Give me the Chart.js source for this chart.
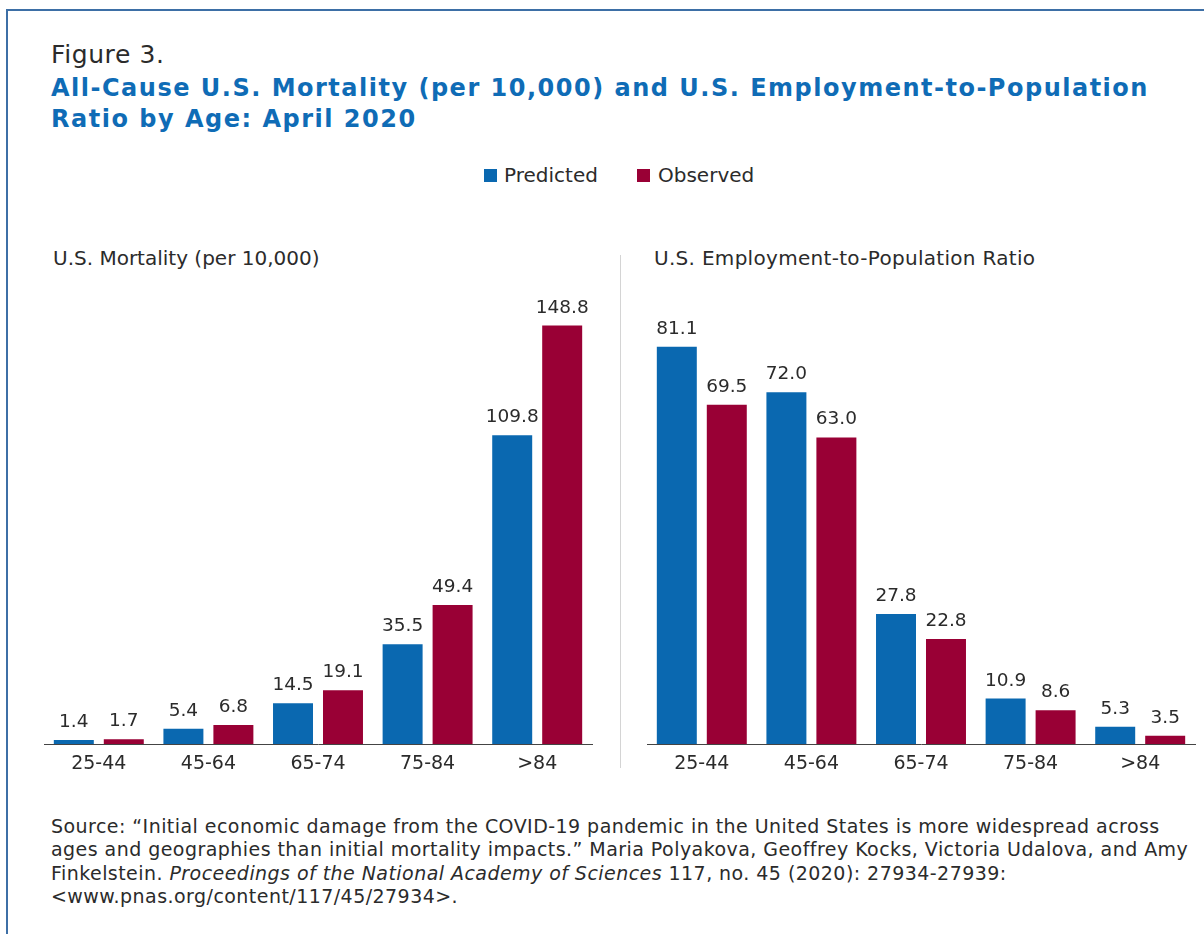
<!DOCTYPE html>
<html>
<head>
<meta charset="utf-8">
<script src="https://cdn.jsdelivr.net/npm/chart.js@4.4.1/dist/chart.umd.min.js"></script>
<style>
  html, body { margin: 0; padding: 0; background: #fff; width: 1204px; height: 934px; overflow: hidden; }
  body { position: relative; font-family: "DejaVu Sans", sans-serif; color: #2b2b2b; }
  .frame { position: absolute; left: 6px; top: 9px; width: 1400px; height: 1100px;
           border-left: 2px solid #3d6fa6; border-top: 2px solid #3d6fa6; }
  .abs { position: absolute; white-space: nowrap; }
  .fig-label { left: 51px; top: 41.5px; font-size: 25px; line-height: 25px; letter-spacing: 0.6px; }
  .fig-title { left: 51px; top: 72.6px; font-size: 24px; line-height: 31.5px; font-weight: bold;
               color: #0f6cb6; letter-spacing: 1.5px; }
  .swatch { position: absolute; width: 13px; height: 13px; top: 169px; }
  .legend-text { top: 165.4px; font-size: 20px; line-height: 20px; }
  .panel-title { top: 248px; font-size: 20px; line-height: 20px; }
  .divider { position: absolute; left: 620px; top: 255px; width: 1px; height: 513px; background: #d4d4d4; }
  .source { left: 51px; top: 815px; font-size: 19px; line-height: 23.4px; letter-spacing: 0.45px; }
  canvas { position: absolute; }
</style>
</head>
<body>
<div class="frame"></div>

<div class="abs fig-label">Figure 3.</div>
<div class="abs fig-title">All-Cause U.S. Mortality (per 10,000) and U.S. Employment-to-Population<br>Ratio by Age: April 2020</div>

<div class="swatch" id="swPred" style="left:484px;"></div>
<div class="abs legend-text" id="lgPred" style="left:504px;"></div>
<div class="swatch" id="swObs" style="left:637px;"></div>
<div class="abs legend-text" id="lgObs" style="left:658px;"></div>

<div class="abs panel-title" style="left:53px;">U.S. Mortality (per 10,000)</div>
<div class="abs panel-title" style="left:654px; letter-spacing:0.3px;">U.S. Employment-to-Population Ratio</div>
<div class="divider"></div>

<canvas id="mortality" width="556" height="520" style="left:40px; top:280px;"></canvas>
<canvas id="employment" width="556" height="520" style="left:643px; top:280px;"></canvas>

<div class="abs source">Source: “Initial economic damage from the COVID-19 pandemic in the United States is more widespread across<br>ages and geographies than initial mortality impacts.” Maria Polyakova, Geoffrey Kocks, Victoria Udalova, and Amy<br>Finkelstein. <i>Proceedings of the National Academy of Sciences</i> 117, no. 45 (2020): 27934-27939:<br>&lt;www.pnas.org/content/117/45/27934&gt;.</div>

<script>
// Age groups shared by both panels
const ageGroups = ['25-44', '45-64', '65-74', '75-84', '>84'];
const seriesNames = ['Predicted', 'Observed'];

// All-cause mortality per 10,000
const mortalityPredicted = [1.4, 5.4, 14.5, 35.5, 109.8];
const mortalityObserved  = [1.7, 6.8, 19.1, 49.4, 148.8];

// Employment-to-population ratio
const employmentPredicted = [81.1, 72.0, 27.8, 10.9, 5.3];
const employmentObserved  = [69.5, 63.0, 22.8, 8.6, 3.5];

const BLUE = '#0a68b0';
const RED = '#990035';
const TEXT = '#2b2b2b';

// Legend swatches and labels
document.getElementById('swPred').style.background = BLUE;
document.getElementById('swObs').style.background = RED;
document.getElementById('lgPred').textContent = seriesNames[0];
document.getElementById('lgObs').textContent = seriesNames[1];

// Writes each bar's value above it
const valueLabels = {
  id: 'valueLabels',
  afterDatasetsDraw(chart) {
    const ctx = chart.ctx;
    ctx.save();
    ctx.font = '18.5px "DejaVu Sans"';
    ctx.fillStyle = TEXT;
    ctx.textAlign = 'center';
    ctx.textBaseline = 'alphabetic';
    chart.data.datasets.forEach((ds, i) => {
      chart.getDatasetMeta(i).data.forEach((bar, j) => {
        ctx.fillText(ds.data[j].toFixed(1), bar.x, bar.y - 13);
      });
    });
    ctx.restore();
  }
};

function makePanel(id, predicted, observed, yMin, yMax) {
  return new Chart(document.getElementById(id), {
    type: 'bar',
    data: {
      labels: ageGroups,
      datasets: [
        { label: seriesNames[0], data: predicted, backgroundColor: BLUE },
        { label: seriesNames[1], data: observed, backgroundColor: RED }
      ]
    },
    options: {
      responsive: false,
      animation: false,
      devicePixelRatio: 1,
      layout: { padding: { left: 4, right: 4, top: 14, bottom: 0 } },
      datasets: { bar: { barPercentage: 0.8, categoryPercentage: 0.912 } },
      plugins: { legend: { display: false }, tooltip: { enabled: false } },
      scales: {
        x: {
          grid: { display: false, drawTicks: false },
          border: { display: true, color: '#444', width: 1 },
          ticks: { color: TEXT, font: { family: 'DejaVu Sans', size: 19 }, padding: 9, maxRotation: 0 },
          afterFit(scale) { scale.height = 56; }
        },
        y: { display: false, min: yMin, max: yMax }
      }
    },
    plugins: [valueLabels]
  });
}

makePanel('mortality', mortalityPredicted, mortalityObserved, 0, 160);
makePanel('employment', employmentPredicted, employmentObserved, 1.85, 91.6);
</script>
</body>
</html>
